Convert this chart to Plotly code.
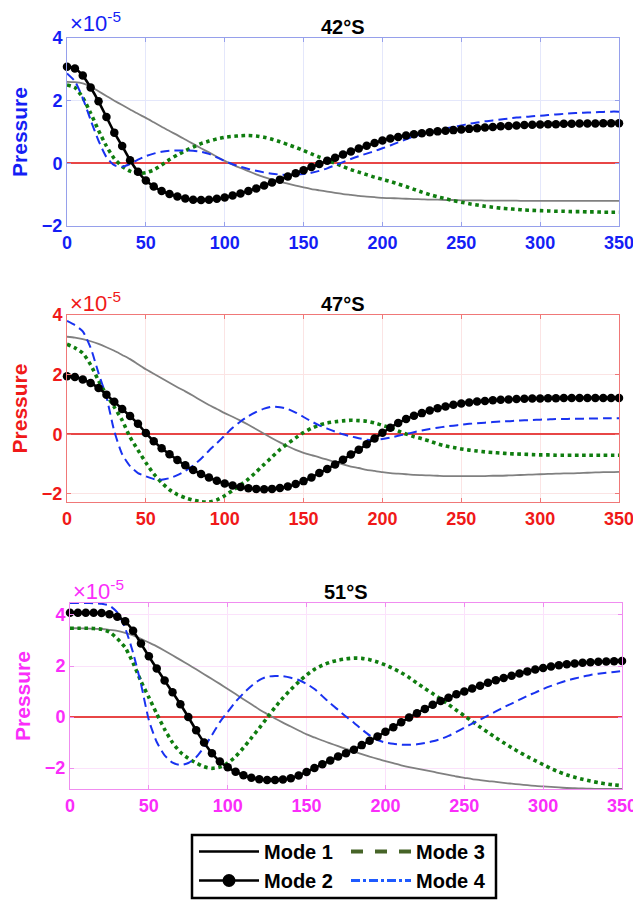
import plotly.graph_objects as go

# ---------------- data (values in units of 1e-5) ----------------
X = list(range(0, 351, 5))

m1_42 = [2.60, 2.59, 2.55, 2.45, 2.30, 2.15, 2.00, 1.86, 1.72, 1.58, 1.45, 1.31, 1.17, 1.03, 0.90, 0.76, 0.62, 0.48, 0.35, 0.21,
         0.08, -0.04, -0.15, -0.25, -0.35, -0.44, -0.52, -0.59, -0.65, -0.71, -0.77, -0.82, -0.86, -0.90, -0.94, -0.98, -1.01, -1.04, -1.06, -1.08,
         -1.10, -1.11, -1.12, -1.13, -1.14, -1.15, -1.16, -1.16, -1.17, -1.17, -1.18, -1.18, -1.18, -1.19, -1.19, -1.19, -1.19, -1.19, -1.20, -1.20,
         -1.20, -1.20, -1.20, -1.20, -1.20, -1.20, -1.20, -1.20, -1.20, -1.20, -1.20]
m2_42 = [3.08, 3.03, 2.80, 2.42, 1.98, 1.48, 0.98, 0.55, 0.10, -0.27, -0.55, -0.74, -0.88, -0.98, -1.06, -1.12, -1.16, -1.17, -1.16, -1.13,
         -1.09, -1.03, -0.96, -0.88, -0.80, -0.71, -0.61, -0.52, -0.42, -0.32, -0.22, -0.12, -0.02, 0.08, 0.18, 0.28, 0.38, 0.47, 0.56, 0.65,
         0.73, 0.79, 0.84, 0.89, 0.93, 0.96, 0.99, 1.02, 1.04, 1.06, 1.08, 1.10, 1.12, 1.14, 1.16, 1.18, 1.19, 1.21, 1.22, 1.23,
         1.24, 1.25, 1.25, 1.26, 1.26, 1.27, 1.27, 1.27, 1.28, 1.28, 1.28]
m3_42 = [2.50, 2.42, 2.10, 1.60, 1.05, 0.55, 0.15, -0.10, -0.25, -0.32, -0.30, -0.21, -0.05, 0.12, 0.27, 0.40, 0.52, 0.63, 0.71, 0.78,
         0.83, 0.86, 0.88, 0.89, 0.87, 0.83, 0.77, 0.69, 0.60, 0.51, 0.41, 0.30, 0.20, 0.10, 0.00, -0.10, -0.20, -0.28, -0.36, -0.44,
         -0.51, -0.58, -0.66, -0.74, -0.83, -0.92, -1.00, -1.07, -1.13, -1.19, -1.24, -1.29, -1.33, -1.37, -1.40, -1.43, -1.45, -1.47, -1.49, -1.50,
         -1.51, -1.52, -1.53, -1.53, -1.54, -1.54, -1.55, -1.55, -1.56, -1.56, -1.56]
m4_42 = [2.87, 2.62, 2.08, 1.38, 0.72, 0.20, -0.06, -0.11, -0.02, 0.12, 0.23, 0.31, 0.37, 0.40, 0.41, 0.41, 0.40, 0.37, 0.30, 0.19,
         0.07, -0.03, -0.11, -0.18, -0.24, -0.29, -0.33, -0.36, -0.37, -0.36, -0.34, -0.30, -0.24, -0.16, -0.06, 0.04, 0.14, 0.23, 0.31, 0.39,
         0.48, 0.57, 0.67, 0.77, 0.86, 0.93, 0.99, 1.05, 1.11, 1.16, 1.21, 1.26, 1.30, 1.34, 1.37, 1.40, 1.43, 1.46, 1.48, 1.50,
         1.52, 1.54, 1.56, 1.58, 1.60, 1.61, 1.62, 1.63, 1.64, 1.65, 1.65]

m1_47 = [3.27, 3.24, 3.19, 3.12, 3.03, 2.92, 2.80, 2.66, 2.52, 2.35, 2.18, 2.03, 1.88, 1.73, 1.58, 1.44, 1.29, 1.13, 0.98, 0.85,
         0.71, 0.59, 0.46, 0.32, 0.17, 0.02, -0.13, -0.27, -0.40, -0.52, -0.62, -0.70, -0.77, -0.85, -0.93, -1.01, -1.08, -1.13, -1.19, -1.23,
         -1.27, -1.30, -1.32, -1.34, -1.36, -1.37, -1.38, -1.39, -1.40, -1.40, -1.40, -1.40, -1.40, -1.40, -1.39, -1.39, -1.38, -1.37, -1.36, -1.35,
         -1.34, -1.33, -1.32, -1.31, -1.31, -1.30, -1.29, -1.28, -1.27, -1.27, -1.26]
m2_47 = [1.95, 1.92, 1.84, 1.72, 1.55, 1.33, 1.09, 0.85, 0.61, 0.35, 0.04, -0.23, -0.47, -0.67, -0.86, -1.04, -1.20, -1.33, -1.45, -1.56,
         -1.65, -1.72, -1.77, -1.81, -1.83, -1.84, -1.83, -1.80, -1.75, -1.67, -1.57, -1.45, -1.30, -1.16, -1.01, -0.85, -0.68, -0.52, -0.33, -0.14,
         0.05, 0.22, 0.38, 0.51, 0.62, 0.71, 0.80, 0.87, 0.93, 0.99, 1.03, 1.07, 1.10, 1.12, 1.14, 1.16, 1.17, 1.18, 1.19, 1.20,
         1.20, 1.21, 1.21, 1.22, 1.22, 1.22, 1.22, 1.22, 1.22, 1.22, 1.22]
m3_47 = [3.02, 2.90, 2.72, 2.33, 1.80, 1.33, 0.91, 0.47, -0.10, -0.53, -0.95, -1.33, -1.62, -1.86, -2.02, -2.13, -2.21, -2.26, -2.27, -2.20,
         -2.06, -1.88, -1.70, -1.50, -1.26, -1.01, -0.76, -0.51, -0.31, -0.12, 0.06, 0.20, 0.31, 0.38, 0.42, 0.45, 0.47, 0.46, 0.44, 0.38,
         0.30, 0.22, 0.11, 0.01, -0.08, -0.15, -0.23, -0.32, -0.39, -0.44, -0.49, -0.53, -0.56, -0.59, -0.61, -0.63, -0.65, -0.66, -0.67, -0.68,
         -0.69, -0.69, -0.70, -0.70, -0.70, -0.70, -0.70, -0.70, -0.70, -0.70, -0.70]
m4_47 = [3.80, 3.66, 3.45, 2.90, 2.05, 1.25, 0.10, -0.67, -1.07, -1.30, -1.41, -1.50, -1.52, -1.47, -1.37, -1.23, -1.05, -0.82, -0.55, -0.30,
         -0.04, 0.22, 0.43, 0.61, 0.75, 0.86, 0.93, 0.91, 0.85, 0.73, 0.58, 0.43, 0.30, 0.19, 0.09, 0.00, -0.07, -0.13, -0.18, -0.19,
         -0.16, -0.11, -0.05, 0.01, 0.07, 0.13, 0.18, 0.22, 0.26, 0.29, 0.32, 0.35, 0.37, 0.39, 0.41, 0.43, 0.44, 0.46, 0.47, 0.48,
         0.49, 0.50, 0.51, 0.51, 0.52, 0.52, 0.53, 0.53, 0.54, 0.54, 0.54]

m1_51 = [3.48, 3.48, 3.47, 3.46, 3.45, 3.42, 3.38, 3.30, 3.20, 3.07, 2.92, 2.77, 2.60, 2.42, 2.24, 2.06, 1.87, 1.68, 1.49, 1.30,
         1.10, 0.90, 0.70, 0.50, 0.30, 0.12, -0.06, -0.22, -0.37, -0.53, -0.68, -0.80, -0.92, -1.03, -1.14, -1.25, -1.35, -1.45, -1.55, -1.64,
         -1.73, -1.81, -1.89, -1.96, -2.02, -2.08, -2.14, -2.21, -2.27, -2.33, -2.38, -2.43, -2.47, -2.51, -2.54, -2.58, -2.61, -2.64, -2.67, -2.70,
         -2.72, -2.74, -2.76, -2.78, -2.79, -2.80, -2.81, -2.82, -2.82, -2.82, -2.82]
m2_51 = [4.09, 4.09, 4.09, 4.09, 4.08, 4.03, 3.93, 3.75, 3.38, 2.88, 2.38, 1.90, 1.43, 0.97, 0.50, 0.00, -0.52, -1.00, -1.42, -1.74,
         -1.97, -2.14, -2.28, -2.38, -2.44, -2.47, -2.47, -2.45, -2.40, -2.29, -2.15, -2.00, -1.85, -1.70, -1.55, -1.42, -1.28, -1.10, -0.93, -0.76,
         -0.58, -0.40, -0.20, -0.02, 0.15, 0.32, 0.48, 0.63, 0.76, 0.89, 1.00, 1.12, 1.23, 1.34, 1.44, 1.53, 1.62, 1.71, 1.79, 1.86,
         1.92, 1.98, 2.03, 2.07, 2.10, 2.13, 2.15, 2.17, 2.18, 2.19, 2.20]
m3_51 = [3.48, 3.48, 3.48, 3.47, 3.44, 3.33, 3.07, 2.72, 2.12, 1.40, 0.77, 0.13, -0.48, -1.00, -1.38, -1.62, -1.80, -1.95, -2.01, -1.96,
         -1.80, -1.55, -1.20, -0.82, -0.43, -0.03, 0.38, 0.75, 1.08, 1.38, 1.65, 1.87, 2.03, 2.15, 2.23, 2.28, 2.31, 2.30, 2.25, 2.16,
         2.04, 1.90, 1.74, 1.55, 1.33, 1.12, 0.92, 0.71, 0.49, 0.27, 0.05, -0.17, -0.39, -0.60, -0.81, -1.01, -1.20, -1.38, -1.55, -1.71,
         -1.86, -2.02, -2.15, -2.27, -2.36, -2.44, -2.51, -2.57, -2.62, -2.66, -2.69]
m4_51 = [4.47, 4.47, 4.47, 4.46, 4.44, 4.37, 4.10, 3.48, 2.52, 1.30, -0.12, -0.98, -1.50, -1.79, -1.88, -1.80, -1.57, -1.18, -0.71, -0.20,
         0.20, 0.60, 0.93, 1.22, 1.45, 1.58, 1.61, 1.60, 1.54, 1.45, 1.30, 1.10, 0.82, 0.54, 0.28, 0.02, -0.22, -0.48, -0.72, -0.90,
         -1.00, -1.05, -1.08, -1.09, -1.07, -1.02, -0.95, -0.86, -0.74, -0.58, -0.42, -0.26, -0.10, 0.06, 0.22, 0.38, 0.53, 0.68, 0.83, 0.96,
         1.10, 1.22, 1.33, 1.43, 1.51, 1.58, 1.65, 1.70, 1.74, 1.77, 1.80]

titles = ["42°S", "47°S", "51°S"]
mode_names = ["Mode 1", "Mode 2", "Mode 3", "Mode 4"]
x_ticks = [0, 50, 100, 150, 200, 250, 300, 350]
y_ticks = [-2, 0, 2, 4]

# ---------------- styling ----------------
OFF = 8                      # page body margin
W, H = 641 - OFF, 900 - OFF  # figure size so it fits the window
FONT = "Liberation Sans"
GRAY = "rgb(128,128,128)"
GREEN = "rgb(15,125,15)"
BLUE = "rgb(25,50,240)"
ZERO_RED = "rgb(232,70,70)"


def fx(p):
    return (p - OFF) / W


def fy(p):
    return 1 - (p - OFF) / H


panels = [
    dict(data=(m1_42, m2_42, m3_42, m4_42), title=titles[0],
         col="rgb(20,30,245)", line="rgb(150,160,235)", grid="rgb(228,231,251)",
         xd=(67, 619), yd=(38, 226), yr=(-2.0, 4.0), title_y=27, mult_y=22),
    dict(data=(m1_47, m2_47, m3_47, m4_47), title=titles[1],
         col="rgb(240,25,25)", line="rgb(240,120,120)", grid="rgb(251,228,228)",
         xd=(67, 619), yd=(315, 502), yr=(-2.27, 4.0), title_y=304, mult_y=302),
    dict(data=(m1_51, m2_51, m3_51, m4_51), title=titles[2],
         col="rgb(250,45,250)", line="rgb(240,140,240)", grid="rgb(251,226,251)",
         xd=(70, 622), yd=(603, 789), yr=(-2.82, 4.47), title_y=592, mult_y=590),
]

fig = go.Figure()
annotations = []
layout_axes = {}

for i, p in enumerate(panels):
    n = "" if i == 0 else str(i + 1)
    xa, ya = "x" + n, "y" + n
    m1, m2, m3, m4 = p["data"]
    fig.add_trace(go.Scatter(x=X, y=m1, xaxis=xa, yaxis=ya, mode="lines", showlegend=False,
                             line=dict(color=GRAY, width=1.8, shape="spline", smoothing=0.6)))
    fig.add_trace(go.Scatter(x=X, y=m3, xaxis=xa, yaxis=ya, mode="lines", showlegend=False,
                             line=dict(color=GREEN, width=3.6, dash="dot", shape="spline", smoothing=0.6)))
    fig.add_trace(go.Scatter(x=X, y=m4, xaxis=xa, yaxis=ya, mode="lines", showlegend=False,
                             line=dict(color=BLUE, width=2.0, dash="9px,5px", shape="spline", smoothing=0.6)))
    fig.add_trace(go.Scatter(x=X, y=m2, xaxis=xa, yaxis=ya, mode="lines+markers", showlegend=False,
                             cliponaxis=False,
                             line=dict(color="black", width=2.6, shape="spline", smoothing=0.6),
                             marker=dict(color="black", size=8.5, line=dict(width=0))))

    tickfont = dict(family=FONT, size=18, color=p["col"], weight="bold")
    layout_axes["xaxis" + n] = dict(
        domain=[fx(p["xd"][0]), fx(p["xd"][1])], anchor=ya, range=[0, 350],
        tickvals=x_ticks, tickfont=tickfont, ticks="inside", ticklen=4,
        tickcolor=p["line"], showline=True, linecolor=p["line"], linewidth=1,
        mirror="ticks", showgrid=True, gridcolor=p["grid"], gridwidth=1,
        zeroline=False, fixedrange=True)
    layout_axes["yaxis" + n] = dict(
        domain=[fy(p["yd"][1]), fy(p["yd"][0])], anchor=xa, range=list(p["yr"]),
        tickvals=y_ticks, tickfont=tickfont, ticks="inside", ticklen=4,
        tickcolor=p["line"], showline=True, linecolor=p["line"], linewidth=1,
        mirror="ticks", showgrid=True, gridcolor=p["grid"], gridwidth=1,
        zeroline=True, zerolinecolor=ZERO_RED, zerolinewidth=1.6,
        title=dict(text="Pressure", font=dict(family=FONT, size=21, color=p["col"], weight="bold"),
                   standoff=8),
        fixedrange=True)
    annotations.append(dict(text="<b>" + p["title"] + "</b>", xref="paper", yref="paper",
                            x=fx((p["xd"][0] + p["xd"][1]) / 2), y=fy(p["title_y"]),
                            xanchor="center", yanchor="middle", showarrow=False,
                            font=dict(family=FONT, size=20, color="black")))
    annotations.append(dict(text="×10<sup>-5</sup>", xref="paper", yref="paper",
                            x=fx(p["xd"][0] + 1), y=fy(p["mult_y"]),
                            xanchor="left", yanchor="middle", showarrow=False,
                            font=dict(family=FONT, size=22, color=p["col"])))

# legend-only entries (styled like the reference legend)
leg_styles = [
    dict(name=mode_names[0], mode="lines", line=dict(color="black", width=2.5), legend="legend"),
    dict(name=mode_names[1], mode="lines+markers", line=dict(color="black", width=2.5),
         marker=dict(color="black", size=13), legend="legend"),
    dict(name=mode_names[2], mode="lines", line=dict(color="rgb(70,100,40)", width=4, dash="dash"), legend="legend2"),
    dict(name=mode_names[3], mode="lines", line=dict(color="rgb(30,90,255)", width=3, dash="dashdot"), legend="legend2"),
]
for s in leg_styles:
    fig.add_trace(go.Scatter(x=[None], y=[None], xaxis="x3", yaxis="y3", showlegend=True, **s))

legfont = dict(family=FONT, size=20, color="black", weight="bold")
fig.update_layout(
    width=W, height=H,
    margin=dict(l=0, r=0, t=0, b=0, autoexpand=False),
    paper_bgcolor="white", plot_bgcolor="white",
    annotations=annotations,
    legend=dict(x=fx(194), y=fy(832), xanchor="left", yanchor="top", orientation="v",
                font=legfont, bgcolor="rgba(0,0,0,0)", borderwidth=0, itemwidth=60,
                tracegroupgap=0),
    legend2=dict(x=fx(346), y=fy(832), xanchor="left", yanchor="top", orientation="v",
                 font=legfont, bgcolor="rgba(0,0,0,0)", borderwidth=0, itemwidth=60,
                 tracegroupgap=0),
    shapes=[dict(type="rect", xref="paper", yref="paper",
                 x0=fx(192), x1=fx(496), y0=fy(898), y1=fy(835),
                 line=dict(color="black", width=2.5), fillcolor="rgba(0,0,0,0)", layer="above")],
    **layout_axes,
)

fig.write_html("out.html")
